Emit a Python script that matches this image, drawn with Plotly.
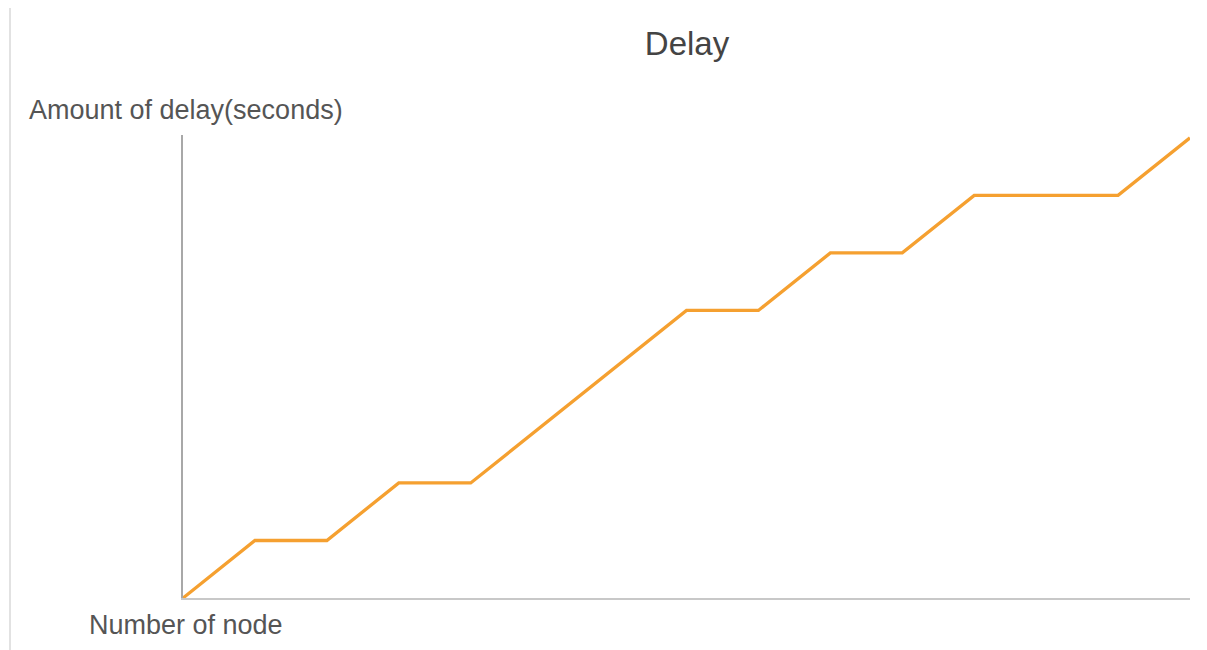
import plotly.graph_objects as go

# Data
nodes = list(range(15))
delay = [0, 1, 1, 2, 2, 3, 4, 5, 5, 6, 6, 7, 7, 7, 8]

title_text = "Delay"
x_title = "Number of node"
y_title = "Amount of delay(seconds)"

OFF = 8  # page body margin offset
W, H = 1207 - OFF, 650 - OFF
L, R, T, B = 183 - OFF, 17, 135 - OFF, 52

fig = go.Figure()
fig.add_trace(go.Scatter(
    x=nodes, y=delay, mode="lines",
    line=dict(color="#f5a030", width=3.3),
    hoverinfo="x+y", showlegend=False,
))

plot_w = W - L - R
plot_h = H - T - B

def px_to_paper_x(px):
    return (px - OFF - L) / plot_w

def px_to_paper_y(py):
    return (H - B - (py - OFF)) / plot_h

fig.update_layout(
    width=W, height=H,
    margin=dict(l=L, r=R, t=T, b=B),
    paper_bgcolor="white", plot_bgcolor="white",
    font=dict(family="Liberation Sans, Arial, sans-serif", color="#555555"),
    title=dict(text=title_text, xref="container", yref="container",
               x=(687 - OFF) / W, y=1 - (43 - OFF) / H,
               xanchor="center", yanchor="middle",
               font=dict(size=33, color="#444444")),
    xaxis=dict(range=[0, 14], showgrid=False, zeroline=False,
               showticklabels=False, ticks="", showline=True,
               linecolor="#c8c8c8", linewidth=2),
    yaxis=dict(range=[0, 8.05], showgrid=False, zeroline=False,
               showticklabels=False, ticks="", showline=True,
               linecolor="#a8a8a8", linewidth=1.5),
    annotations=[
        dict(text=y_title, xref="paper", yref="paper",
             x=px_to_paper_x(27), y=px_to_paper_y(110),
             xanchor="left", yanchor="middle", showarrow=False,
             font=dict(size=27, color="#555555")),
        dict(text=x_title, xref="paper", yref="paper",
             x=px_to_paper_x(87), y=px_to_paper_y(625),
             xanchor="left", yanchor="middle", showarrow=False,
             font=dict(size=27, color="#555555")),
    ],
    shapes=[
        dict(type="rect", xref="paper", yref="paper",
             x0=px_to_paper_x(10), x1=px_to_paper_x(1204),
             y0=px_to_paper_y(680), y1=px_to_paper_y(6),
             line=dict(color="#e2e2e2", width=2), layer="below"),
    ],
)

fig.write_html("out.html")
